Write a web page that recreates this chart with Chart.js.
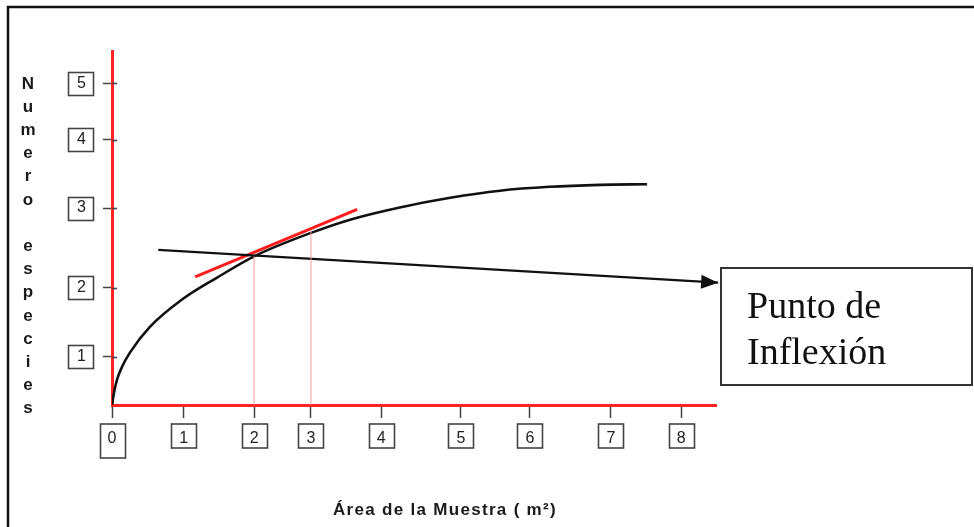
<!DOCTYPE html>
<html>
<head>
<meta charset="utf-8">
<script src="https://cdn.jsdelivr.net/npm/chart.js@4"></script>
<style>
  html, body { margin: 0; padding: 0; background: #fff; overflow: hidden; }
  #wrap { width: 974px; height: 527px; position: relative; }
</style>
</head>
<body>
<div id="wrap"><canvas id="curva"></canvas></div>
<script>
// curva especies-area
const areaValues    = [0, 0.03, 0.07, 0.14, 0.25, 0.53, 1.0, 1.48, 2.0, 2.79, 3.35, 4.05, 4.76, 5.46, 6.16, 6.87, 7.53];
const speciesValues = [0, 0.20, 0.39, 0.59, 0.81, 1.21, 1.65, 1.98, 2.31, 2.67, 2.88, 3.07, 3.22, 3.33, 3.39, 3.42, 3.43];

// tangente en el punto de inflexion
const tangentX = [1.17, 3.45];
const tangentY = [1.99, 3.04];

// flecha hacia la nota
const arrowX = [0.65, 8.53];
const arrowY = [2.41, 1.90];

// lineas guia verticales
const guideX = [2.0, 2.8];
const guideTop = [2.31, 2.70];

// ejes (las marcas no estan equiespaciadas en el original)
const xTickAt = [0, 1.01, 2.0, 2.8, 3.79, 4.91, 5.88, 7.02, 8.01];
const xTickLabels = ['0', '1', '2', '3', '4', '5', '6', '7', '8'];
const yTickAt = [0.75, 1.82, 3.06, 4.12, 5.0];
const yTickLabels = ['1', '2', '3', '4', '5'];

const xTitle = 'Área de la Muestra ( m²)';
const yTitle = ['N', 'u', 'm', 'e', 'r', 'o', '', 'e', 's', 'p', 'e', 'c', 'i', 'e', 's'];
const noteLines = ['Punto de', 'Inflexión'];

const pts = (xs, ys) => xs.map((x, i) => ({ x: x, y: ys[i] }));

const datasets = [];
guideX.forEach((gx, i) => {
    datasets.push({
        data: pts([gx, gx], [0, guideTop[i]]),
        borderColor: '#ff9a9a', borderWidth: 1, pointRadius: 0
    });
});
datasets.push({
    data: pts(areaValues, speciesValues),
    borderColor: '#111', borderWidth: 2.6, pointRadius: 0,
    cubicInterpolationMode: 'monotone'
});
datasets.push({
    data: pts(arrowX, arrowY),
    borderColor: '#111', borderWidth: 2.2, pointRadius: 0, clip: false, isArrow: true
});
datasets.push({
    data: pts(tangentX, tangentY),
    borderColor: '#ff1c1c', borderWidth: 3, pointRadius: 0
});

const decor = {
    id: 'decor',
    beforeDraw(chart) {
        const ctx = chart.ctx;
        ctx.save();
        ctx.fillStyle = '#fff';
        ctx.fillRect(0, 0, chart.width, chart.height);
        // marco exterior
        ctx.strokeStyle = '#111';
        ctx.lineWidth = 2.5;
        ctx.beginPath();
        ctx.moveTo(8, chart.height);
        ctx.lineTo(8, 7);
        ctx.lineTo(chart.width, 7);
        ctx.stroke();
        ctx.restore();
    },
    afterDraw(chart) {
        const ctx = chart.ctx;
        const xs = chart.scales.x, ys = chart.scales.y;
        const area = chart.chartArea;
        ctx.save();

        // cajas de las etiquetas
        ctx.strokeStyle = '#444';
        ctx.lineWidth = 1.6;
        xs.ticks.forEach((t, i) => {
            const cx = xs.getPixelForTick(i);
            const cy = area.bottom + 31;
            const h = i === 0 ? 34 : 24;
            ctx.strokeRect(Math.round(cx - 12.5) + 0.5, cy - 12, 25, h);
        });
        ys.ticks.forEach((t, i) => {
            const cy = ys.getPixelForTick(i);
            const cx = area.left - 32;
            ctx.strokeRect(Math.round(cx - 12.5) + 0.5, Math.round(cy - 11.5) + 0.5, 25, 23);
            // la marca cruza el eje en el original
            ctx.beginPath();
            ctx.moveTo(area.left, Math.round(cy) + 0.5);
            ctx.lineTo(area.left + 5, Math.round(cy) + 0.5);
            ctx.stroke();
        });

        // punta de flecha
        chart.data.datasets.forEach((ds, di) => {
            if (!ds.isArrow) return;
            const meta = chart.getDatasetMeta(di).data;
            const p0 = meta[meta.length - 2], p1 = meta[meta.length - 1];
            const a = Math.atan2(p1.y - p0.y, p1.x - p0.x);
            const len = 17, hw = 7;
            ctx.fillStyle = '#111';
            ctx.beginPath();
            ctx.moveTo(p1.x, p1.y);
            ctx.lineTo(p1.x - len * Math.cos(a) + hw * Math.sin(a), p1.y - len * Math.sin(a) - hw * Math.cos(a));
            ctx.lineTo(p1.x - len * Math.cos(a) - hw * Math.sin(a), p1.y - len * Math.sin(a) + hw * Math.cos(a));
            ctx.closePath();
            ctx.fill();
        });

        // titulo eje x
        ctx.fillStyle = '#1a1a1a';
        ctx.font = 'bold 17px "Liberation Sans", Arial, sans-serif';
        ctx.textAlign = 'center';
        ctx.textBaseline = 'alphabetic';
        ctx.letterSpacing = '1.3px';
        ctx.fillText(xTitle, 445, 515);
        ctx.letterSpacing = '0px';

        // titulo eje y (letras apiladas)
        ctx.font = 'bold 17px "Liberation Sans", Arial, sans-serif';
        ctx.textBaseline = 'middle';
        yTitle.forEach((ch, i) => {
            ctx.fillText(ch, 28, 84 + i * 23.2);
        });

        // nota
        ctx.strokeStyle = '#333';
        ctx.lineWidth = 2;
        ctx.strokeRect(721, 268, 251, 117);
        ctx.fillStyle = '#111';
        ctx.font = '38px "Liberation Serif", "Times New Roman", serif';
        ctx.textAlign = 'left';
        ctx.textBaseline = 'alphabetic';
        ctx.fillText(noteLines[0], 747, 318);
        ctx.fillText(noteLines[1], 747, 364);
        ctx.restore();
    }
};

new Chart(document.getElementById('curva'), {
    type: 'line',
    data: { datasets: datasets },
    options: {
        responsive: true,
        maintainAspectRatio: false,
        animation: false,
        events: [],
        layout: { padding: { left: 0, top: 51, right: 258, bottom: 0 } },
        plugins: { legend: { display: false }, tooltip: { enabled: false } },
        scales: {
            x: {
                type: 'linear', min: 0, max: 8.5,
                afterFit(scale) { scale.height = 122; },
                afterBuildTicks(scale) { scale.ticks = xTickAt.map(v => ({ value: v })); },
                grid: { drawOnChartArea: false, tickLength: 13, tickColor: '#444', tickWidth: 1.5 },
                border: { display: true, color: '#ff2424', width: 3 },
                ticks: {
                    autoSkip: false, maxRotation: 0, padding: 11, color: '#222',
                    font: { family: '"Liberation Sans", Arial, sans-serif', size: 16 },
                    callback: (v, i) => xTickLabels[i]
                }
            },
            y: {
                type: 'linear', min: 0, max: 5.5,
                afterFit(scale) { scale.width = 112; },
                afterBuildTicks(scale) { scale.ticks = yTickAt.map(v => ({ value: v })); },
                grid: { drawOnChartArea: false, tickLength: 9, tickColor: '#444', tickWidth: 1.5 },
                border: { display: true, color: '#ff2424', width: 3 },
                ticks: {
                    autoSkip: false, padding: 17, color: '#222',
                    font: { family: '"Liberation Sans", Arial, sans-serif', size: 16 },
                    callback: (v, i) => yTickLabels[i]
                }
            }
        }
    },
    plugins: [decor]
});
</script>
</body>
</html>
